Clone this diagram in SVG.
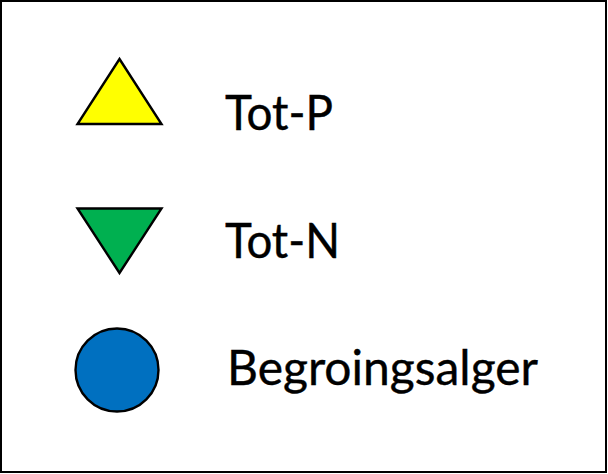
<svg xmlns="http://www.w3.org/2000/svg" width="608" height="474" viewBox="0 0 608 474"><style>.k{stroke:#000;stroke-width:2.4;stroke-linejoin:miter}.t{font-family:"Lato","Open Sans",sans-serif;font-size:48px;fill:#000;stroke:#000;stroke-width:.4}</style><rect x="0" y="0" width="608" height="474" fill="#fff"/><rect x="1" y="1" width="605" height="471" fill="#fff" stroke="#000" stroke-width="2"/><g id="tot-p"><polygon class="k" points="119.500,59 161.500,124 77.500,124" fill="#ffff00"/><text class="t" x="225" y="130" textLength="108" lengthAdjust="spacingAndGlyphs">Tot-P</text></g><g id="tot-n"><polygon class="k" points="77.500,208.500 161.500,208.500 119.500,273" fill="#00b050"/><text class="t" x="225" y="258" textLength="115" lengthAdjust="spacingAndGlyphs">Tot-N</text></g><g id="begroingsalger"><circle class="k" cx="117" cy="370" r="41.500" fill="#0070c0"/><text class="t" x="227" y="385" textLength="311" lengthAdjust="spacingAndGlyphs">Begroingsalger</text></g></svg>
